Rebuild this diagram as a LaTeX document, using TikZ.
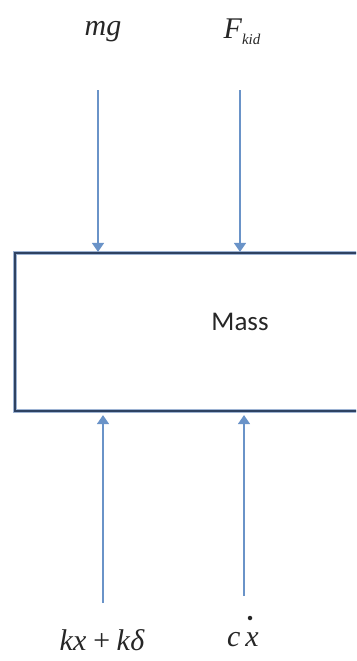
\documentclass[tikz,border=0pt]{standalone}
\usepackage{fontspec}
\setmainfont{Liberation Serif}
\newfontfamily\calib{Carlito}
\usetikzlibrary{arrows.meta}
\definecolor{arrblue}{HTML}{6A93C8}
\definecolor{boxdark}{HTML}{2E4262}
\definecolor{boxlight}{HTML}{9DB3D3}
\tikzset{
  arr/.style={draw=arrblue, line width=1.6pt, -{Triangle[length=9pt,width=12pt]}},
  forcelbl/.style={font=\fontsize{30}{32}\selectfont\itshape, inner sep=0pt, text=black!85},
  masslbl/.style={font=\calib\fontsize{27}{29}\selectfont, inner sep=0pt, text=black!85}
}
\begin{document}
\begin{tikzpicture}[x=1pt,y=-1pt]
\useasboundingbox (0,0) rectangle (356,661);
\clip (0,0) rectangle (356,661);
\node[draw=boxlight, line width=4.5pt, minimum width=450pt, minimum height=158pt, inner sep=0pt] (massout) at (240,332) {};
\node[draw=boxdark, line width=2.2pt, minimum width=450pt, minimum height=158pt, inner sep=0pt] (mass) at (240,332) {};
\node[masslbl] (masstxt) at (240,322) {Mass};
% top forces
\node[forcelbl] (mg) at (103,32) {mg};
\node[forcelbl] (fkid) at (242,32) {F\raisebox{-0.45ex}{\fontsize{15}{16}\selectfont kid}};
\coordinate (t1) at (98,90);
\coordinate (t2) at (240,90);
\draw[arr] (t1) -- (t1 |- mass.north);
\draw[arr] (t2) -- (t2 |- mass.north);
% bottom forces
\coordinate (b1) at (103,603);
\coordinate (b2) at (244,596);
\draw[arr, shorten >=3pt] (b1) -- (b1 |- mass.south);
\draw[arr, shorten >=3pt] (b2) -- (b2 |- mass.south);
\node[forcelbl] (kx) at (102,640) {kx\,+\,k\textup{\itshape δ}};
\node[forcelbl] (cx) at (243,640) {c\,x};
\node[circle, fill=black!85, inner sep=0pt, minimum size=4.5pt] (dot) at (250,618) {};
\end{tikzpicture}
\end{document}
